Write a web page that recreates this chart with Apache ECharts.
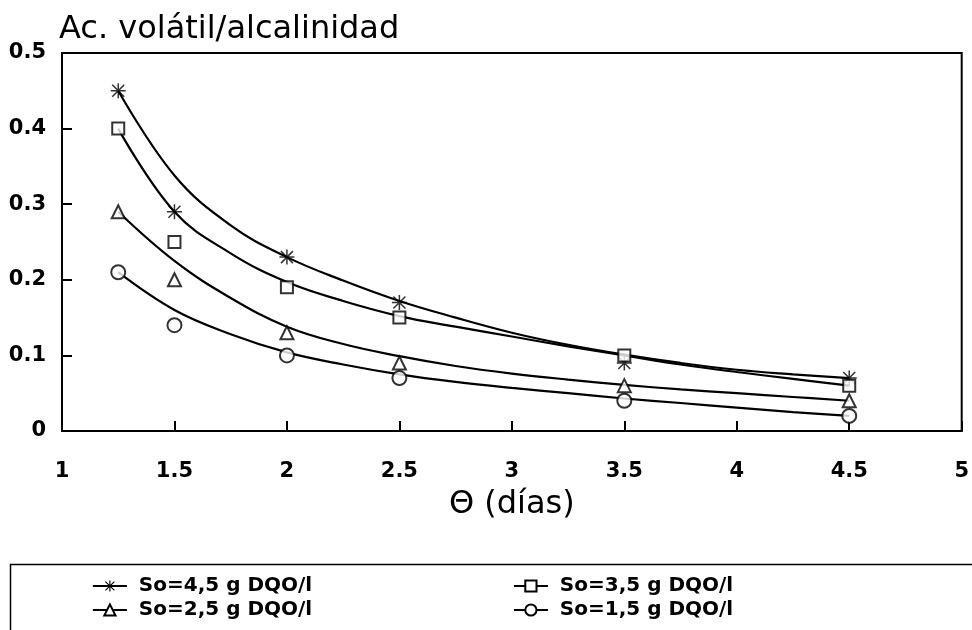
<!DOCTYPE html>
<html>
<head>
<meta charset="utf-8">
<script src="https://cdn.jsdelivr.net/npm/echarts@6/dist/echarts.min.js"></script>
<style>
html,body{margin:0;padding:0;background:#fff;}
#chart{width:972px;height:630px;}
</style>
</head>
<body>
<div id="chart"></div>
<script>
// ---- data ----
const seriesNames = ['So=4,5 g DQO/l', 'So=3,5 g DQO/l', 'So=2,5 g DQO/l', 'So=1,5 g DQO/l'];
const days = [1.25, 1.5, 2, 2.5, 3.5, 4.5];
const obs45 = [0.45, 0.29, 0.23, 0.17, 0.09, 0.07];
const obs35 = [0.40, 0.25, 0.19, 0.15, 0.10, 0.06];
const obs25 = [0.29, 0.20, 0.13, 0.09, 0.06, 0.04];
const obs15 = [0.21, 0.14, 0.10, 0.07, 0.04, 0.02];
// fitted curves
const curveX = [1.25, 1.5, 1.75, 2, 2.25, 2.5, 2.75, 3, 3.25, 3.5, 3.75, 4, 4.25, 4.5];
const fit45 = [0.45, 0.338, 0.272, 0.23, 0.199, 0.172, 0.150, 0.130, 0.114, 0.101, 0.090, 0.081, 0.075, 0.07];
const fit35 = [0.40, 0.29, 0.235, 0.197, 0.172, 0.152, 0.138, 0.125, 0.112, 0.100, 0.088, 0.078, 0.069, 0.06];
const fit25 = [0.29, 0.225, 0.176, 0.138, 0.115, 0.099, 0.086, 0.076, 0.068, 0.061, 0.055, 0.050, 0.045, 0.04];
const fit15 = [0.21, 0.16, 0.128, 0.104, 0.088, 0.075, 0.065, 0.057, 0.050, 0.043, 0.037, 0.031, 0.025, 0.02];
const xTicks = [1, 1.5, 2, 2.5, 3, 3.5, 4, 4.5, 5];
const yTicks = [0, 0.1, 0.2, 0.3, 0.4, 0.5];

const asterisk = 'path://M9 0H11V20H9Z M0 9H20V11H0Z M1.3 2.7L2.7 1.3L18.7 17.3L17.3 18.7Z M17.3 1.3L18.7 2.7L2.7 18.7L1.3 17.3Z';
const symbols = [asterisk, 'emptyRect', 'emptyTriangle', 'emptyCircle'];
const symSizes = [15, 12, 13, 14];
const obs = [obs45, obs35, obs25, obs15];
const fits = [fit45, fit35, fit25, fit15];

const pair = (xs, ys) => xs.map((x, i) => [x, ys[i]]);

const series = [];
seriesNames.forEach((name, k) => {
  series.push({
    name: name,
    type: 'line',
    smooth: 0.4,
    data: pair(curveX, fits[k]),
    showSymbol: false,
    symbol: symbols[k],
    lineStyle: { color: '#000', width: 2.2 },
    itemStyle: { color: '#000' },
    z: 2,
    silent: true
  });
  series.push({
    name: name + ' pts',
    type: 'scatter',
    data: pair(days, obs[k]),
    symbol: symbols[k],
    symbolSize: symSizes[k],
    itemStyle: { color: '#000', borderWidth: 2 },
    z: 3,
    silent: true
  });
});

const legendFont = { fontFamily: 'DejaVu Sans', fontWeight: 'bold', fontSize: 20, color: '#000' };
const legendPos = [[92, 576], [513, 576], [92, 600], [513, 600]];
const legends = seriesNames.map((n, k) => ({
  data: [n],
  left: legendPos[k][0],
  top: legendPos[k][1],
  padding: 0,
  itemWidth: 34,
  itemHeight: 14,
  selectedMode: false,
  formatter: v => ' ' + v,
  textStyle: legendFont,
  lineStyle: { color: '#000', width: 1.8, opacity: 1 },
  itemStyle: { color: '#000', borderColor: '#000' }
}));

const chart = echarts.init(document.getElementById('chart'), null, { renderer: 'canvas' });
chart.setOption({
  animation: false,
  backgroundColor: '#fff',
  title: {
    text: 'Ac. volátil/alcalinidad',
    left: 54,
    top: 9,
    textStyle: { fontFamily: 'DejaVu Sans', fontWeight: 'normal', fontSize: 32, color: '#000' }
  },
  legend: legends,
  grid: {
    left: 62, right: 7, top: 53, bottom: 199,
    show: true, borderColor: '#000', borderWidth: 2, backgroundColor: 'transparent'
  },
  xAxis: {
    type: 'value',
    min: xTicks[0], max: xTicks[xTicks.length - 1], interval: 0.5,
    name: 'Θ (días)',
    nameLocation: 'middle',
    nameGap: 58,
    nameTextStyle: { fontFamily: 'DejaVu Sans', fontSize: 32, color: '#000' },
    axisLine: { show: true, lineStyle: { color: '#000', width: 2 } },
    axisTick: { show: true, inside: true, length: 10, lineStyle: { color: '#000', width: 2 } },
    axisLabel: { margin: 30, fontFamily: 'DejaVu Sans', fontWeight: 'bold', fontSize: 21, color: '#000' },
    splitLine: { show: false }
  },
  yAxis: {
    type: 'value',
    min: yTicks[0], max: yTicks[yTicks.length - 1], interval: 0.1,
    axisLine: { show: true, lineStyle: { color: '#000', width: 2 } },
    axisTick: { show: true, inside: true, length: 10, lineStyle: { color: '#000', width: 2 } },
    axisLabel: { margin: 16, fontFamily: 'DejaVu Sans', fontWeight: 'bold', fontSize: 21, color: '#000',
      formatter: v => (v === 0 ? '0' : v.toFixed(1)) },
    splitLine: { show: false }
  },
  graphic: [{
    type: 'rect',
    left: 8, top: 562,
    shape: { width: 980, height: 100 },
    style: { fill: 'none', stroke: '#000', lineWidth: 1.5 },
    silent: true
  }],
  series: series
});
</script>
</body>
</html>
